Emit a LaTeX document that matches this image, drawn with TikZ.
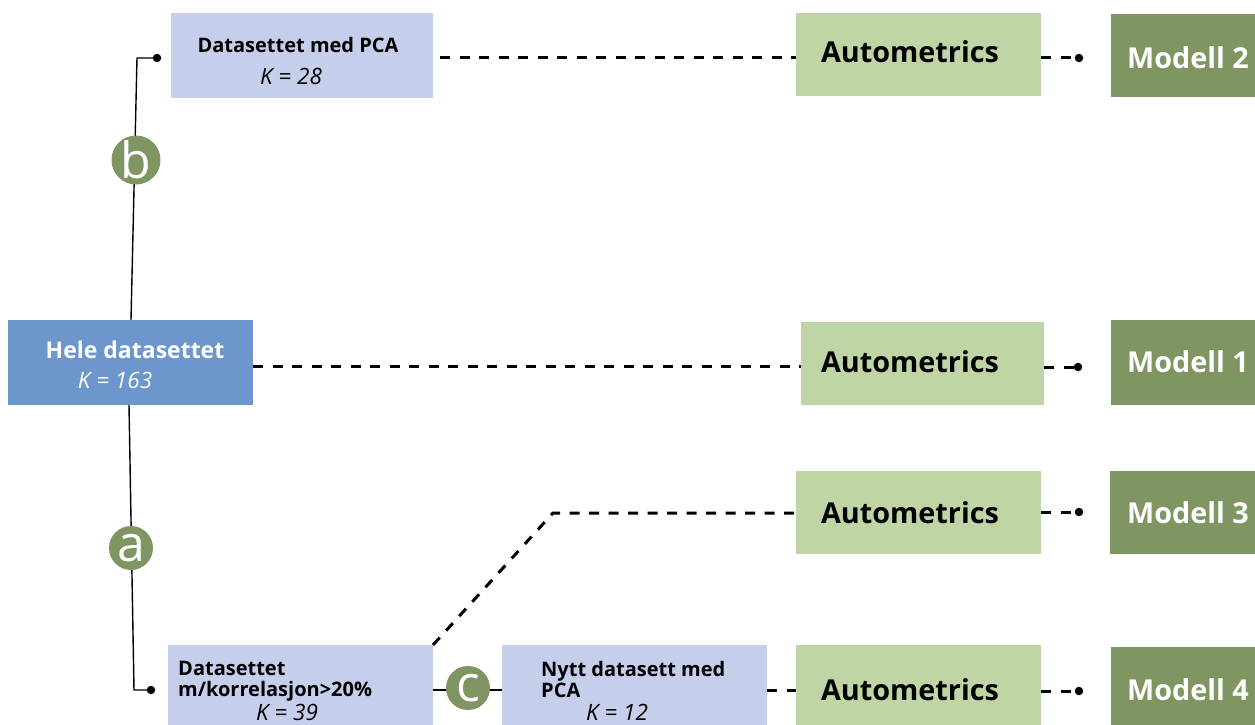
\documentclass[tikz,border=0pt]{standalone}
\usepackage{fontspec}
\setmainfont{Open Sans}
\definecolor{pcab}{HTML}{C5CEEA}
\definecolor{heleb}{HTML}{6D96CD}
\definecolor{autog}{HTML}{C0D5A5}
\definecolor{modg}{HTML}{7F9663}
\begin{document}
\begin{tikzpicture}[x=1pt,y=-1pt,
  box/.style={rectangle, inner sep=0pt, outer sep=0pt, draw=none},
  pcabox/.style={box, fill=pcab},
  autobox/.style={box, fill=autog, minimum width=245pt, minimum height=83pt},
  modbox/.style={box, fill=modg, minimum width=144pt, minimum height=84pt},
  btxt/.style={inner sep=0pt, font=\fontsize{20}{21}\selectfont\bfseries, align=left},
  ktxt/.style={inner sep=0pt, font=\fontsize{22.5}{24}\selectfont\itshape},
  atxt/.style={inner sep=0pt, font=\fontsize{28.8}{32}\selectfont\bfseries},
  mtxt/.style={inner sep=0pt, font=\fontsize{28.8}{32}\selectfont\bfseries, text=white, anchor=west},
  circ/.style={circle, fill=modg, minimum size=44pt, inner sep=0pt, text=white, font=\fontsize{50}{50}\selectfont},
  dline/.style={line width=3pt, dash pattern=on 10pt off 9.5pt},
  sline/.style={line width=1.4pt},
  dot/.style={circle, fill=black, minimum size=8.5pt, inner sep=0pt}
]
\useasboundingbox (0,0) rectangle (1255,725);

% data boxes
\node[pcabox, minimum width=262pt, minimum height=85pt] (pca) at (302,55.5) {};
\node[btxt] (pcat) at (298,45) {Datasettet med PCA};
\node[ktxt] (pcak) at (291,76) {K = 28};

\node[box, fill=heleb, minimum width=245pt, minimum height=85pt] (hele) at (130.5,362.5) {};
\node[btxt, text=white, font=\fontsize{23}{26}\selectfont\bfseries] (helet) at (135,350) {Hele datasettet};
\node[ktxt, text=white] (helek) at (115,380) {K = 163};

\node[pcabox, minimum width=265pt, minimum height=80pt] (korr) at (300.5,685) {};
\node[btxt, anchor=north west] (korrt) at (178,661) {Datasettet\\m/korrelasjon>20\%};
\node[ktxt] (korrk) at (287,712) {K = 39};

\node[pcabox, minimum width=265pt, minimum height=80pt] (nytt) at (634.5,685) {};
\node[btxt, anchor=north west] (nyttt) at (541,661) {Nytt datasett med\\PCA};
\node[ktxt] (nyttk) at (617,712) {K = 12};

% autometrics
\node[autobox] (a1) at (918.5,54.5) {};
\node[atxt] (a1t) at (910,52) {Autometrics};
\node[autobox, minimum width=243pt] (a2) at (922.5,363.5) {};
\node[atxt] (a2t) at (910,362) {Autometrics};
\node[autobox] (a3) at (918.5,512.5) {};
\node[atxt] (a3t) at (910,513) {Autometrics};
\node[autobox, minimum height=80pt] (a4) at (918.5,685) {};
\node[atxt] (a4t) at (910,690) {Autometrics};

% models
\node[modbox, minimum height=83pt] (m2) at (1183,55.5) {};
\node[mtxt] (m2t) at (1127,58) {Modell 2};
\node[modbox, minimum height=85pt] (m1) at (1183,362.5) {};
\node[mtxt] (m1t) at (1127,362) {Modell 1};
\node[modbox, minimum width=145pt, minimum height=83pt] (m3) at (1182.5,512.5) {};
\node[mtxt] (m3t) at (1127,513) {Modell 3};
\node[modbox, minimum height=78pt] (m4) at (1183,686) {};
\node[mtxt] (m4t) at (1127,690) {Modell 4};

% dots
\node[dot] (d1) at (157,58) {};
\node[dot] (d2) at (151,690) {};
\node[dot] (e2) at (1079,58) {};
\node[dot] (e1) at (1078,367) {};
\node[dot] (e3) at (1079,512) {};
\node[dot] (e4) at (1079,691) {};

\coordinate (cb) at (137,58);
\coordinate (ca) at (134,690);
\coordinate (bend) at (553,513);

% solid connectors
\draw[sline] (hele.north -| 131,0) -- (cb) -- (d1.center);
\draw[sline] (hele.south -| 129,0) -- (ca) -- (d2.center);
\draw[sline, line width=2.6pt] (korr.east |- 0,690) -- (nytt.west |- 0,690);

% circles
\node[circ] (cirb) at (136,160) {b};
\node[circ] (cira) at (131,548) {a};
\node[circ] (circ) at (468,688) {c};

% dashed connectors
\draw[dline] (pca.east |- 0,58) ++(7,0) -- (a1.west |- 0,58);
\draw[dline] (hele.east |- 0,366) -- (a2.west |- 0,366);
\draw[dline] (korr.north east) -- (bend) -- (a3.west |- bend);
\draw[dline] (nytt.east |- 0,690) -- (a4.west |- 0,690);

\draw[dline] (a1.east |- e2) -- (e2.center);
\draw[dline] (a2.east |- e1) -- (e1.center);
\draw[dline] (a3.east |- e3) -- (e3.center);
\draw[dline] (a4.east |- e4) -- (e4.center);
\end{tikzpicture}
\end{document}
